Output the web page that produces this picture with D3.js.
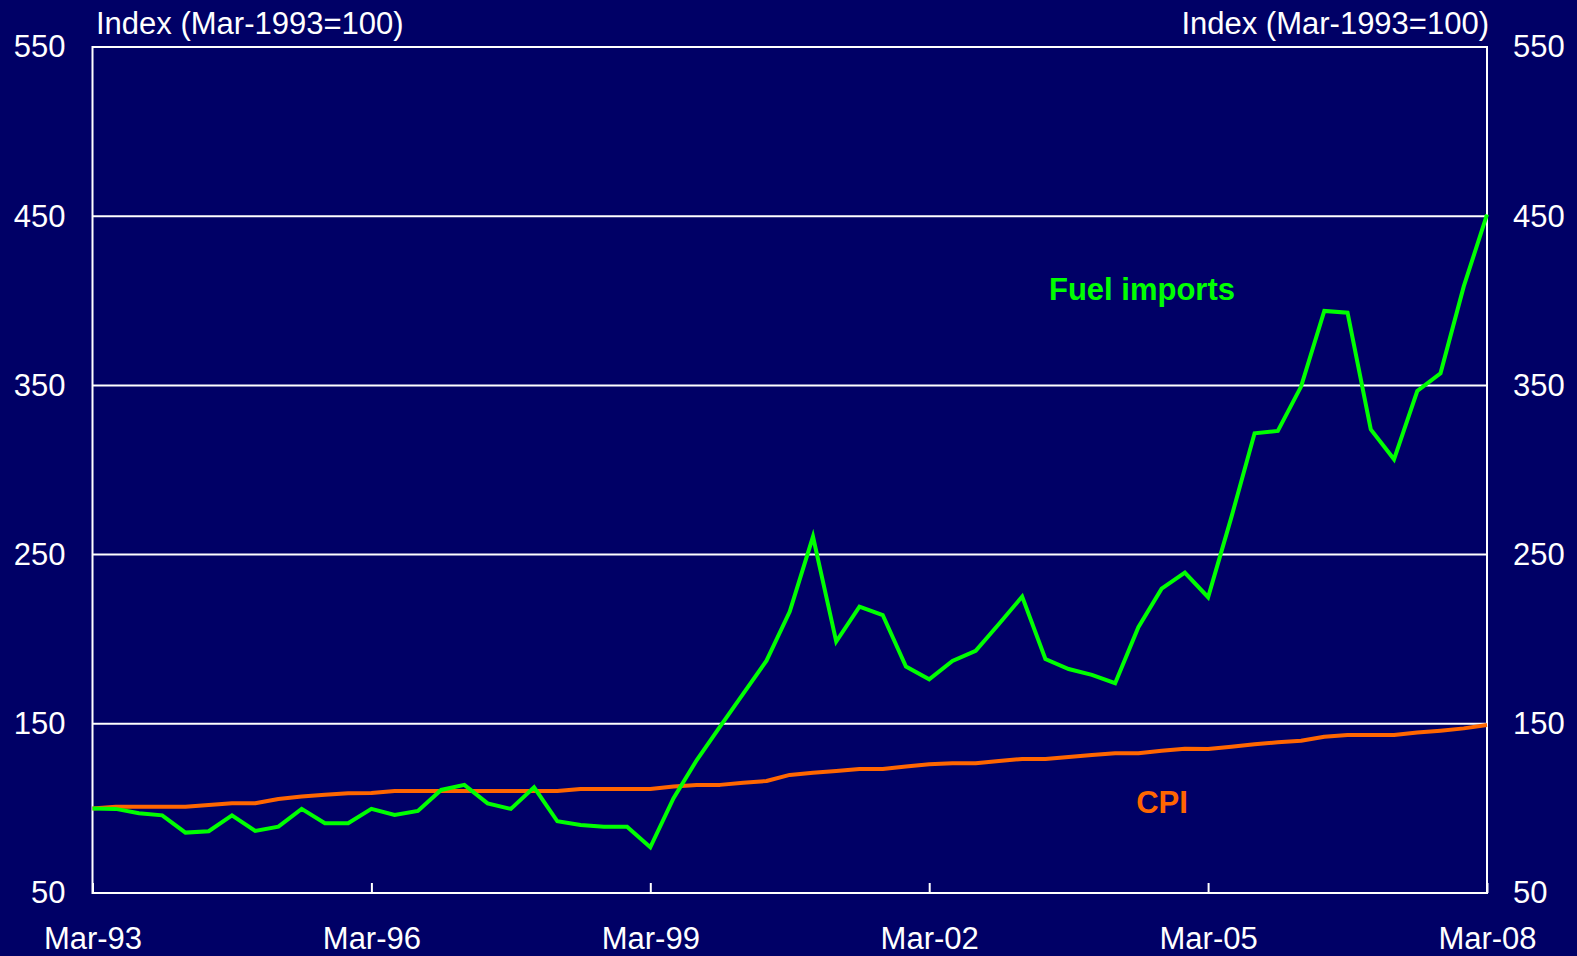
<!DOCTYPE html>
<html>
<head>
<meta charset="utf-8">
<script src="https://cdn.jsdelivr.net/npm/d3@7"></script>
<style>
  html, body { margin: 0; padding: 0; background: #000066; }
  svg { display: block; }
  text { font-family: "Liberation Sans", Arial, sans-serif; }
</style>
</head>
<body>
<svg id="chart"></svg>
<script>
// quarterly, Mar-93 .. Mar-08
const xTickLabels = ["Mar-93", "Mar-96", "Mar-99", "Mar-02", "Mar-05", "Mar-08"];
const xTickIndex = [0, 12, 24, 36, 48, 60];
const yTicks = [50, 150, 250, 350, 450, 550];

const fuelImports = [100, 99.7, 97.1, 95.9, 85.7, 86.5, 95.9, 86.7, 89.2, 99.7,
  91.2, 91.2, 99.7, 96.1, 98.5, 110.9, 113.9, 103.0, 99.7, 112.5,
  92.4, 90.2, 89.2, 89.2, 77.0, 106, 128.6, 148.3, 167.8, 187.3,
  216.3, 260.6, 198.6, 219.3, 214.3, 183.8, 176.3, 187.1, 193.1, 209.0,
  225.2, 188.3, 182.4, 178.9, 174.0, 207.1, 229.9, 239.4, 224.8, 272,
  321.7, 323.1, 349.3, 394.0, 393.0, 324.0, 306.3, 346.7, 357.1, 408.5, 451];

const cpi = [100, 101, 101, 101, 101, 102, 103, 103, 105.6, 107,
  108, 108.9, 109.1, 110.3, 110.3, 110.3, 110.3, 110.3, 110.3, 110.3,
  110.3, 111.5, 111.5, 111.5, 111.5, 113, 113.9, 113.9, 115.2, 116.2,
  119.8, 121.1, 122.1, 123.3, 123.3, 124.7, 126.1, 126.7, 126.7, 128.0,
  129.2, 129.2, 130.4, 131.6, 132.6, 132.6, 134.1, 135.2, 135.1, 136.5,
  137.9, 139.1, 140.0, 142.4, 143.4, 143.4, 143.4, 144.8, 145.9, 147.3, 149.3];

const width = 1577;
const height = 956;
const plotLeft = 92.5, plotRight = 1487, plotTop = 47, plotBottom = 893;

const svg = d3.select("#chart")
    .attr("width", width)
    .attr("height", height);

svg.append("rect")
    .attr("width", width)
    .attr("height", height)
    .attr("fill", "#000066");

const x = d3.scaleLinear().domain([0, fuelImports.length - 1]).range([plotLeft, plotRight]);
const y = d3.scaleLinear().domain([50, 550]).range([plotBottom, plotTop]);

// horizontal grid lines
svg.append("g")
    .selectAll("line")
    .data(yTicks.filter(d => d > 50 && d < 550))
    .enter()
    .append("line")
    .attr("x1", plotLeft).attr("x2", plotRight)
    .attr("y1", d => y(d)).attr("y2", d => y(d))
    .attr("stroke", "#ffffff")
    .attr("stroke-width", 2);

// plot frame
svg.append("rect")
    .attr("x", plotLeft).attr("y", plotTop)
    .attr("width", plotRight - plotLeft).attr("height", plotBottom - plotTop)
    .attr("fill", "none")
    .attr("stroke", "#ffffff")
    .attr("stroke-width", 2);

// bottom axis: ticks point up into the plot
const xAxis = d3.axisBottom(x)
    .tickValues(xTickIndex)
    .tickFormat((d, i) => xTickLabels[i])
    .tickSizeInner(-10)
    .tickSizeOuter(0)
    .tickPadding(34);

const gx = svg.append("g")
    .attr("transform", `translate(0,${plotBottom})`)
    .call(xAxis);
gx.select(".domain").remove();
gx.selectAll("line").attr("stroke", "#ffffff").attr("stroke-width", 2);
gx.selectAll("text")
    .attr("fill", "#ffffff")
    .style("font-size", "31px");

// left / right value axes (labels only)
const yLeft = d3.axisLeft(y).tickValues(yTicks).tickSize(0).tickPadding(27);
const gl = svg.append("g").attr("transform", `translate(${plotLeft},0)`).call(yLeft);
const yRight = d3.axisRight(y).tickValues(yTicks).tickSize(0).tickPadding(26);
const gr = svg.append("g").attr("transform", `translate(${plotRight},0)`).call(yRight);
[gl, gr].forEach(g => {
    g.select(".domain").remove();
    g.selectAll("text")
        .attr("fill", "#ffffff")
        .style("font-size", "31px");
});

// axis titles
svg.append("text")
    .attr("x", 96).attr("y", 34)
    .attr("fill", "#ffffff")
    .style("font-size", "31px")
    .text("Index (Mar-1993=100)");
svg.append("text")
    .attr("x", 1489).attr("y", 34)
    .attr("text-anchor", "end")
    .attr("fill", "#ffffff")
    .style("font-size", "31px")
    .text("Index (Mar-1993=100)");

// lines
const line = d3.line()
    .x((d, i) => x(i))
    .y(d => y(d));

svg.append("path")
    .datum(cpi)
    .attr("d", line)
    .attr("fill", "none")
    .attr("stroke", "#ff6600")
    .attr("stroke-width", 4)
    .attr("stroke-linejoin", "round");

svg.append("path")
    .datum(fuelImports)
    .attr("d", line)
    .attr("fill", "none")
    .attr("stroke", "#00ff00")
    .attr("stroke-width", 4)
    .attr("stroke-linejoin", "miter");

// series labels
svg.append("text")
    .attr("x", 1142).attr("y", 300)
    .attr("text-anchor", "middle")
    .attr("fill", "#00ff00")
    .style("font-size", "31px")
    .style("font-weight", "bold")
    .text("Fuel imports");
svg.append("text")
    .attr("x", 1162).attr("y", 813)
    .attr("text-anchor", "middle")
    .attr("fill", "#ff6600")
    .style("font-size", "31px")
    .style("font-weight", "bold")
    .text("CPI");
</script>
</body>
</html>
